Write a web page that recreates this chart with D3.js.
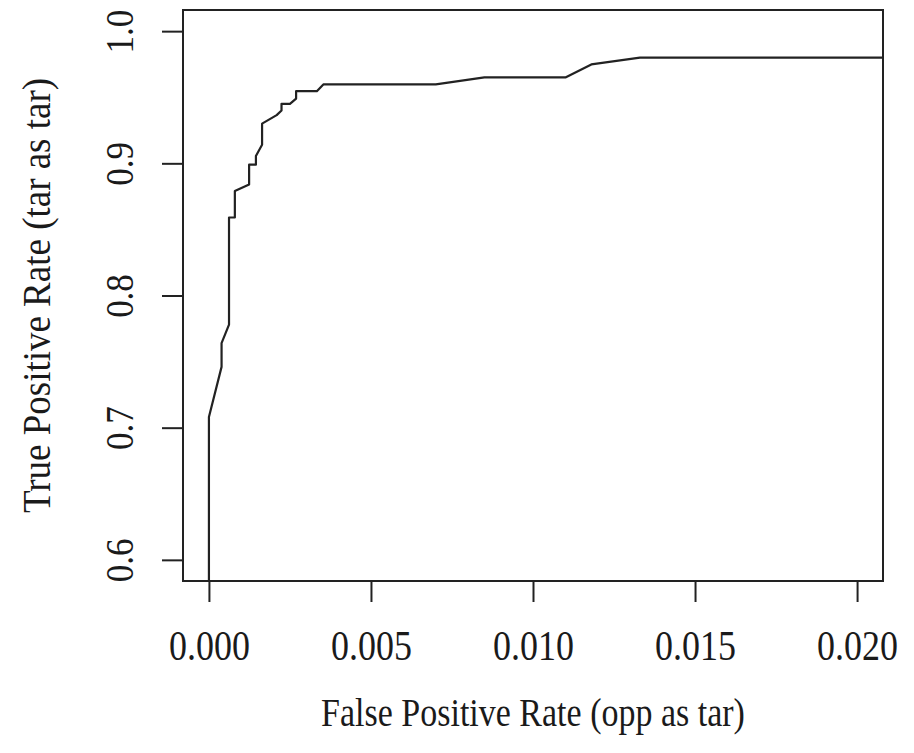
<!DOCTYPE html>
<html>
<head>
<meta charset="utf-8">
<script src="https://cdn.jsdelivr.net/npm/d3@7"></script>
<style>
  body { margin: 0; background: #fff; }
  text { font-family: "Liberation Serif", "Times New Roman", serif; fill: #1a1a1a; }
</style>
</head>
<body>
<div id="chart"></div>
<script>
/**
 * DATA
 * */
const fpr = [0, 0, 0.00039, 0.00039, 0.00062, 0.00062, 0.0008, 0.0008, 0.00124, 0.00124,
  0.00145, 0.00145, 0.00164, 0.00164, 0.00209, 0.00224, 0.00224, 0.0025, 0.00269, 0.00269,
  0.00333, 0.00353, 0.0070, 0.0085, 0.011, 0.0118, 0.0133, 0.021];
const tpr = [0.55, 0.708, 0.746, 0.764, 0.778, 0.859, 0.859, 0.879, 0.884, 0.899,
  0.899, 0.9055, 0.914, 0.93, 0.9365, 0.94, 0.945, 0.945, 0.949, 0.9546,
  0.9546, 0.9597, 0.9597, 0.965, 0.965, 0.9748, 0.98, 0.98];
const xTicks = [0, 0.005, 0.01, 0.015, 0.02];
const yTicks = [0.6, 0.7, 0.8, 0.9, 1.0];
const xTitle = "False Positive Rate (opp as tar)";
const yTitle = "True Positive Rate (tar as tar)";

/**
 * CONSTANTS
 * */
const width = 914,
  height = 753,
  margin = { top: 10, bottom: 172, left: 183, right: 31 };

const svg = d3.select("#chart")
  .append("svg")
  .attr("width", width)
  .attr("height", height);

const x = d3.scaleLinear()
  .domain([-0.0008, 0.0208])
  .range([margin.left, width - margin.right]);

const y = d3.scaleLinear()
  .domain([0.584, 1.016])
  .range([height - margin.bottom, margin.top]);

// clip to plot region like R does
svg.append("clipPath")
  .attr("id", "plotclip")
  .append("rect")
  .attr("x", margin.left)
  .attr("y", margin.top)
  .attr("width", width - margin.left - margin.right)
  .attr("height", height - margin.top - margin.bottom);

const points = fpr.map((d, i) => [d, tpr[i]]);

svg.append("path")
  .datum(points)
  .attr("clip-path", "url(#plotclip)")
  .attr("fill", "none")
  .attr("stroke", "#222")
  .attr("stroke-width", 2.2)
  .attr("stroke-linejoin", "round")
  .attr("d", d3.line().x(d => x(d[0])).y(d => y(d[1])));

// box
svg.append("rect")
  .attr("x", margin.left)
  .attr("y", margin.top)
  .attr("width", width - margin.left - margin.right)
  .attr("height", height - margin.top - margin.bottom)
  .attr("fill", "none")
  .attr("stroke", "#222")
  .attr("stroke-width", 2);

// axes
const xAxis = svg.append("g")
  .attr("transform", `translate(0,${height - margin.bottom})`)
  .call(d3.axisBottom(x).tickValues(xTicks).tickSize(21)
    .tickFormat(d3.format(".3f")));

const yAxis = svg.append("g")
  .attr("transform", `translate(${margin.left},0)`)
  .call(d3.axisLeft(y).tickValues(yTicks).tickSize(21).tickFormat(d3.format(".1f")));

[xAxis, yAxis].forEach(g => {
  g.select(".domain").remove();
  g.selectAll(".tick line").attr("stroke", "#222").attr("stroke-width", 2);
  g.selectAll(".tick text").attr("fill", "#1a1a1a")
    .attr("font-family", "Liberation Serif, serif")
    .attr("x", null).attr("y", null).attr("dy", null)
    .attr("text-anchor", "middle");
});

// glyphs in the original look a bit taller than Liberation Serif
xAxis.selectAll(".tick text")
  .attr("font-size", 36)
  .attr("transform", "translate(0,79) scale(1,1.18)");

// rotate y tick labels (R style, parallel to axis)
yAxis.selectAll(".tick text")
  .attr("font-size", 35)
  .attr("transform", "translate(-50,0) rotate(-90) scale(1,1.12)");

// titles
svg.append("text")
  .attr("transform", `translate(${(x.range()[0] + x.range()[1]) / 2},726) scale(1,1.15)`)
  .attr("text-anchor", "middle")
  .attr("font-size", 34)
  .text(xTitle);

svg.append("text")
  .attr("transform", `translate(50,${(y.range()[0] + y.range()[1]) / 2}) rotate(-90) scale(1,1.1)`)
  .attr("text-anchor", "middle")
  .attr("font-size", 37)
  .text(yTitle);
</script>
</body>
</html>
